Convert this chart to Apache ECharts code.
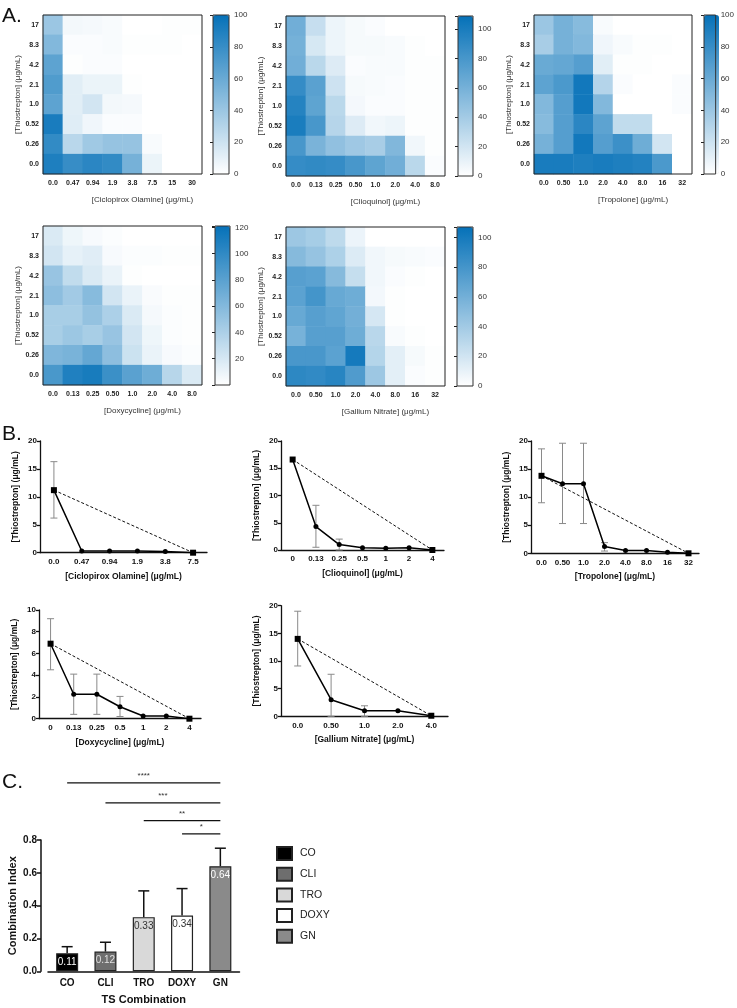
<!DOCTYPE html>
<html>
<head>
<meta charset="utf-8">
<script src="https://cdn.jsdelivr.net/npm/echarts@6/dist/echarts.min.js"></script>
<style>
html, body { margin: 0; padding: 0; background: #fff; }
#chart { width: 737px; height: 1008px; }
</style>
</head>
<body>
<div id="chart"></div>
<script>
// ---- A. checkerboard heatmaps (rows listed top -> bottom: 17 ... 0.0) ----
const thioRows = ['0.0', '0.26', '0.52', '1.0', '2.1', '4.2', '8.3', '17']

const ciclopiroxCats = ['0.0', '0.47', '0.94', '1.9', '3.8', '7.5', '15', '30']
const ciclopiroxGrid = [
  [40, 5, 4, 3, 0, 0, 1, 1],
  [50, 2, 2, 3, 1, 1, 1, 0],
  [65, 1, 2, 2, 0, 0, 0, 0],
  [70, 12, 8, 8, 1, 0, 0, 0],
  [65, 12, 18, 5, 4, 0, 0, 0],
  [92, 13, 6, 2, 2, 0, 0, 0],
  [82, 28, 38, 42, 42, 3, 0, 0],
  [90, 80, 85, 82, 55, 8, 0, 0]
]

const clioquinolCats = ['0.0', '0.13', '0.25', '0.50', '1.0', '2.0', '4.0', '8.0']
const clioquinolGrid = [
  [62, 25, 8, 4, 2, 0, 0, 0],
  [60, 18, 8, 4, 4, 3, 1, 0],
  [62, 30, 15, 2, 3, 3, 1, 1],
  [88, 72, 22, 4, 3, 2, 1, 1],
  [95, 70, 30, 5, 2, 2, 1, 1],
  [100, 80, 32, 15, 6, 8, 1, 1],
  [80, 58, 48, 42, 38, 55, 6, 1],
  [88, 90, 88, 80, 70, 62, 30, 2]
]

const tropoloneCats = ['0.0', '0.50', '1.0', '2.0', '4.0', '8.0', '16', '32']
const tropoloneGrid = [
  [40, 55, 48, 3, 0, 0, 0, 0],
  [35, 55, 50, 6, 3, 1, 1, 0],
  [60, 62, 68, 12, 1, 1, 0, 0],
  [65, 72, 95, 30, 2, 0, 0, 2],
  [50, 68, 95, 50, 0, 0, 0, 2],
  [48, 68, 85, 65, 25, 25, 0, 0],
  [55, 68, 95, 68, 78, 58, 18, 0],
  [92, 92, 90, 92, 90, 88, 72, 0]
]

const doxyCats = ['0.0', '0.13', '0.25', '0.50', '1.0', '2.0', '4.0', '8.0']
const doxyGrid = [
  [18, 8, 4, 2, 0, 0, 0, 0],
  [22, 12, 15, 4, 2, 2, 1, 1],
  [50, 30, 18, 10, 1, 0, 0, 0],
  [55, 45, 58, 22, 10, 3, 1, 1],
  [42, 42, 52, 40, 18, 5, 2, 1],
  [42, 48, 42, 50, 22, 8, 2, 1],
  [62, 65, 75, 55, 25, 10, 4, 2],
  [88, 108, 112, 95, 80, 70, 35, 18]
]

const galliumCats = ['0.0', '0.50', '1.0', '2.0', '4.0', '8.0', '16', '32']
const galliumGrid = [
  [42, 38, 28, 8, 0, 0, 0, 0],
  [52, 45, 35, 15, 6, 4, 3, 2],
  [72, 70, 52, 25, 6, 2, 1, 0],
  [70, 80, 65, 62, 5, 1, 0, 0],
  [65, 72, 68, 60, 18, 1, 0, 0],
  [58, 72, 72, 62, 30, 3, 1, 0],
  [78, 78, 70, 100, 32, 12, 4, 1],
  [90, 88, 92, 75, 42, 12, 2, 1]
]

// ---- B. isobolograms ----
const ciclopiroxIsoCats = ['0.0', '0.47', '0.94', '1.9', '3.8', '7.5']
const ciclopiroxIsoTS = [11.2, 0.3, 0.3, 0.3, 0.2, 0]
const ciclopiroxIsoErr = [[6.2, 16.3], null, null, null, null, null]

const clioquinolIsoCats = ['0', '0.13', '0.25', '0.5', '1', '2', '4']
const clioquinolIsoTS = [16.6, 4.3, 1.0, 0.4, 0.3, 0.4, 0]
const clioquinolIsoErr = [null, [0.5, 8.2], [0, 2.0], null, null, null, null]

const tropoloneIsoCats = ['0.0', '0.50', '1.0', '2.0', '4.0', '8.0', '16', '32']
const tropoloneIsoTS = [13.8, 12.4, 12.4, 1.2, 0.5, 0.5, 0.2, 0]
const tropoloneIsoErr = [[9.0, 18.6], [5.3, 19.6], [5.3, 19.6], [0.4, 1.9], null, null, null, null]

const doxyIsoCats = ['0', '0.13', '0.25', '0.5', '1', '2', '4']
const doxyIsoTS = [6.9, 2.25, 2.25, 1.1, 0.25, 0.25, 0]
const doxyIsoErr = [[4.5, 9.2], [0.4, 4.1], [0.4, 4.1], [0.2, 2.05], null, null, null]

const galliumIsoCats = ['0.0', '0.50', '1.0', '2.0', '4.0']
const galliumIsoTS = [14.0, 3.0, 1.0, 1.0, 0.1]
const galliumIsoErr = [[9.1, 19.0], [0, 7.6], [0, 1.9], null, null]

// ---- C. combination index ----
const comboCats = ['CO', 'CLI', 'TRO', 'DOXY', 'GN']
const comboCI = [0.11, 0.12, 0.33, 0.34, 0.64]
const comboUpper = [0.15, 0.177, 0.49, 0.504, 0.75]
const sigPairs = [[0, 4, '****'], [1, 4, '***'], [2, 4, '**'], [3, 4, '*']]

const font = 'Liberation Sans, Arial, sans-serif'
const thioName = '[Thiostrepton] (μg/mL)'

const heatPanels = [
  { cats: ciclopiroxCats, grid: ciclopiroxGrid, max: 100, name: '[Ciclopirox Olamine] (μg/mL)', box: [43, 15, 159, 159], bar: [213, 15, 16, 159] },
  { cats: clioquinolCats, grid: clioquinolGrid, max: 109, name: '[Clioquinol] (μg/mL)', box: [286, 16, 159, 160], bar: [458, 16, 15, 160] },
  { cats: tropoloneCats, grid: tropoloneGrid, max: 100, name: '[Tropolone] (μg/mL)', box: [534, 15, 158, 159], bar: [704, 15, 15, 159] },
  { cats: doxyCats, grid: doxyGrid, max: 121, name: '[Doxycycline] (μg/mL)', box: [43, 226, 159, 159], bar: [215, 226, 15, 159], noZero: true },
  { cats: galliumCats, grid: galliumGrid, max: 107, name: '[Gallium Nitrate] (μg/mL)', box: [286, 227, 159, 159], bar: [457, 227, 16, 159] }
]

const linePanels = [
  { cats: ciclopiroxIsoCats, ts: ciclopiroxIsoTS, err: ciclopiroxIsoErr, max: 20, interval: 5, name: '[Ciclopirox Olamine] (μg/mL)', box: [40, 441, 167, 111.7] },
  { cats: clioquinolIsoCats, ts: clioquinolIsoTS, err: clioquinolIsoErr, max: 20, interval: 5, name: '[Clioquinol] (μg/mL)', box: [281, 441, 163, 109] },
  { cats: tropoloneIsoCats, ts: tropoloneIsoTS, err: tropoloneIsoErr, max: 20, interval: 5, name: '[Tropolone] (μg/mL)', box: [531, 441, 168, 112.3] },
  { cats: doxyIsoCats, ts: doxyIsoTS, err: doxyIsoErr, max: 10, interval: 2, name: '[Doxycycline] (μg/mL)', box: [39, 610, 162, 108.7] },
  { cats: galliumIsoCats, ts: galliumIsoTS, err: galliumIsoErr, max: 20, interval: 5, name: '[Gallium Nitrate] (μg/mL)', box: [281, 605.7, 167, 110.6] }
]

function errorBar(color, width, cap, lower) {
  return function (params, api) {
    const x = api.value(0)
    const lo = api.coord([x, api.value(1)])
    const hi = api.coord([x, api.value(2)])
    const st = { stroke: color, lineWidth: width }
    const kids = [
      { type: 'line', shape: { x1: lo[0], y1: lo[1], x2: hi[0], y2: hi[1] }, style: st },
      { type: 'line', shape: { x1: hi[0] - cap, y1: hi[1], x2: hi[0] + cap, y2: hi[1] }, style: st }
    ]
    if (lower) kids.push({ type: 'line', shape: { x1: lo[0] - cap, y1: lo[1], x2: lo[0] + cap, y2: lo[1] }, style: st })
    return { type: 'group', children: kids }
  }
}

let option = {
  animation: false,
  backgroundColor: '#fff',
  textStyle: { fontFamily: font },
  grid: [], xAxis: [], yAxis: [], visualMap: [], series: [],
  graphic: [
    { type: 'text', left: 2, top: 6, style: { text: 'A.', fontSize: 21, fill: '#111', fontFamily: font } },
    { type: 'text', left: 2, top: 424, style: { text: 'B.', fontSize: 21, fill: '#111', fontFamily: font } },
    { type: 'text', left: 2, top: 772, style: { text: 'C.', fontSize: 21, fill: '#111', fontFamily: font } }
  ]
}

// heatmaps first so series index == panel index
heatPanels.forEach((p, i) => {
  const gi = option.grid.length
  option.grid.push({ left: p.box[0], top: p.box[1], width: p.box[2], height: p.box[3], show: true, borderColor: '#222', borderWidth: 1, z: 10 })
  option.xAxis.push({
    gridIndex: gi, type: 'category', data: p.cats,
    axisLine: { show: false }, axisTick: { show: false }, splitLine: { show: false },
    axisLabel: { fontSize: 7, fontWeight: 'bold', color: '#222', margin: 6 },
    name: p.name, nameLocation: 'middle', nameGap: 22,
    nameTextStyle: { fontSize: 8, color: '#333', padding: [0, 0, 0, 40] }
  })
  option.yAxis.push({
    gridIndex: gi, type: 'category', data: thioRows,
    axisLine: { show: false }, axisTick: { show: false }, splitLine: { show: false },
    axisLabel: { fontSize: 7, fontWeight: 'bold', color: '#222', margin: 4 },
    name: thioName, nameLocation: 'middle', nameRotate: 90, nameGap: 20,
    nameTextStyle: { fontSize: 8, color: '#333' }
  })
  const cells = []
  p.grid.forEach((row, r) => row.forEach((v, c) => cells.push([c, thioRows.length - 1 - r, v])))
  option.series.push({ type: 'heatmap', xAxisIndex: gi, yAxisIndex: gi, data: cells, emphasis: { disabled: true } })

  const bi = option.grid.length
  option.grid.push({ left: p.bar[0], top: p.bar[1], width: p.bar[2], height: p.bar[3], show: true, borderColor: '#333', borderWidth: 1, z: 10 })
  option.xAxis.push({ gridIndex: bi, type: 'value', show: false })
  option.yAxis.push({
    gridIndex: bi, type: 'value', position: 'right', min: 0, max: p.max, interval: 20,
    axisLine: { show: false }, splitLine: { show: false },
    axisTick: { show: true, inside: true, length: 3, lineStyle: { color: '#222' } },
    axisLabel: {
      fontSize: 8, color: '#333', margin: 5,
      formatter: v => (v % 20 === 0 && !(p.noZero && v === 0)) ? String(v) : ''
    }
  })
  option.visualMap.push({
    type: 'continuous', seriesIndex: i, min: 0, max: p.max,
    left: p.bar[0], top: p.bar[1], itemWidth: p.bar[2], itemHeight: p.bar[3],
    padding: 0, calculable: false, hoverLink: false, showLabel: false,
    inRange: { color: ['#ffffff', '#0571b8'] }
  })
})

linePanels.forEach(p => {
  const gi = option.grid.length
  const last = p.ts.length - 1
  option.grid.push({ left: p.box[0], top: p.box[1], width: p.box[2], height: p.box[3] })
  option.xAxis.push({
    gridIndex: gi, type: 'category', data: p.cats, boundaryGap: true,
    axisLine: { lineStyle: { color: '#111', width: 1.3 } },
    axisTick: { alignWithLabel: true, length: 3, lineStyle: { color: '#111', width: 1.3 } },
    axisLabel: { fontSize: 8, fontWeight: 'bold', color: '#111', margin: 5 },
    name: p.name, nameLocation: 'middle', nameGap: 19,
    nameTextStyle: { fontSize: 8.5, fontWeight: 'bold', color: '#111' }
  })
  option.yAxis.push({
    gridIndex: gi, type: 'value', min: 0, max: p.max, interval: p.interval,
    axisLine: { show: true, lineStyle: { color: '#111', width: 1.3 } },
    axisTick: { show: true, length: 3, lineStyle: { color: '#111', width: 1.3 } },
    splitLine: { show: false },
    axisLabel: { fontSize: 8, fontWeight: 'bold', color: '#111', margin: 3 },
    name: thioName, nameLocation: 'middle', nameRotate: 90, nameGap: 20,
    nameTextStyle: { fontSize: 8.5, fontWeight: 'bold', color: '#111' }
  })
  option.series.push({
    type: 'custom', xAxisIndex: gi, yAxisIndex: gi, clip: false, z: 1,
    data: p.err.map((e, i) => e ? [i, e[0], e[1]] : null).filter(Boolean),
    encode: { x: 0, y: [1, 2] },
    renderItem: errorBar('#8a8a8a', 1, 3.5, true)
  })
  option.series.push({
    type: 'line', xAxisIndex: gi, yAxisIndex: gi, z: 2, silent: true,
    data: p.ts.map((v, i) => (i === 0 || i === last) ? v : null),
    connectNulls: true, showSymbol: false,
    lineStyle: { color: '#111', width: 1, type: [3, 2] }
  })
  option.series.push({
    type: 'line', xAxisIndex: gi, yAxisIndex: gi, z: 3, silent: true,
    data: p.ts.map((v, i) => (i === 0 || i === last)
      ? { value: v, symbol: 'rect', symbolSize: 6 }
      : { value: v, symbol: 'circle', symbolSize: 5 }),
    lineStyle: { color: '#000', width: 1.5 },
    itemStyle: { color: '#000' }
  })
})

// C. bar chart
const comboColors = ['#000000', '#6e6e6e', '#d9d9d9', '#ffffff', '#8a8a8a']
const comboLabelColors = ['#ffffff', '#e0e0e0', '#333333', '#333333', '#ffffff']
const sigHeights = [1.148, 1.026, 0.918, 0.837]
const bgi = option.grid.length
option.grid.push({ left: 48, top: 840, width: 191.5, height: 131.3 })
option.xAxis.push({
  gridIndex: bgi, type: 'category', data: comboCats, boundaryGap: true,
  axisLine: { lineStyle: { color: '#111', width: 1.5 } },
  axisTick: { show: false },
  axisLabel: { fontSize: 10, fontWeight: 'bold', color: '#111', margin: 7 },
  name: 'TS Combination', nameLocation: 'middle', nameGap: 23,
  nameTextStyle: { fontSize: 11, fontWeight: 'bold', color: '#111' }
})
option.yAxis.push({
  gridIndex: bgi, type: 'value', min: 0, max: 0.8, interval: 0.2, offset: 7,
  axisLine: { show: true, lineStyle: { color: '#111', width: 1.5 } },
  axisTick: { show: true, length: 4, lineStyle: { color: '#111', width: 1.5 } },
  splitLine: { show: false },
  axisLabel: { fontSize: 10, fontWeight: 'bold', color: '#111', margin: 4, formatter: v => v.toFixed(1) },
  name: 'Combination Index', nameLocation: 'middle', nameRotate: 90, nameGap: 23,
  nameTextStyle: { fontSize: 11, fontWeight: 'bold', color: '#111' }
})
comboCats.forEach((name, i) => {
  option.series.push({
    type: 'bar', name, xAxisIndex: bgi, yAxisIndex: bgi, barWidth: 22, barGap: '-100%', z: 3,
    data: comboCI.map((v, j) => j === i ? v : '-'),
    itemStyle: { color: comboColors[i], borderColor: '#222', borderWidth: 1.2 },
    label: {
      show: true, position: 'insideTop', distance: 4, fontSize: 10, color: comboLabelColors[i],
      formatter: q => Number(q.value).toFixed(2)
    }
  })
})
option.series.push({
  type: 'custom', xAxisIndex: bgi, yAxisIndex: bgi, clip: false, z: 2,
  data: comboCI.map((v, i) => [i, v, comboUpper[i]]),
  encode: { x: 0, y: [1, 2] },
  renderItem: errorBar('#111', 1.5, 5.5, false)
})
option.series.push({
  type: 'custom', xAxisIndex: bgi, yAxisIndex: bgi, clip: false, z: 4,
  data: sigPairs.map((s, k) => [s[0], s[1], sigHeights[k]]),
  encode: { x: [0, 1], y: 2 },
  renderItem: (params, api) => {
    const a = api.coord([api.value(0), api.value(2)])
    const b = api.coord([api.value(1), api.value(2)])
    return {
      type: 'group', children: [
        { type: 'line', shape: { x1: a[0], y1: a[1], x2: b[0], y2: b[1] }, style: { stroke: '#111', lineWidth: 1.2 } },
        { type: 'text', style: { x: (a[0] + b[0]) / 2, y: a[1] - 3, text: sigPairs[params.dataIndex][2], fontSize: 8, fill: '#333', align: 'center', verticalAlign: 'bottom', fontFamily: font } }
      ]
    }
  }
})

option.legend = {
  data: comboCats, orient: 'vertical', left: 271, top: 841,
  itemWidth: 15, itemHeight: 13, itemGap: 5.7, icon: 'rect', selectedMode: false,
  textStyle: { fontSize: 10.5, color: '#222', fontFamily: font, padding: [0, 0, 0, 3] }
}

const myChart = echarts.init(document.getElementById('chart'), null, { renderer: 'canvas' })
myChart.setOption(option)
</script>
</body>
</html>
